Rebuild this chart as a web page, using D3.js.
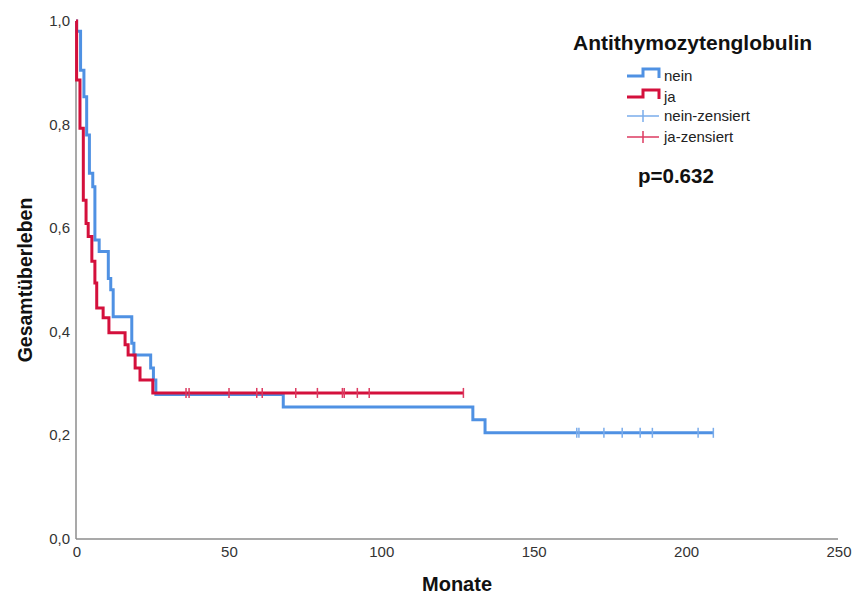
<!DOCTYPE html>
<html>
<head>
<meta charset="utf-8">
<script src="https://cdn.jsdelivr.net/npm/d3@7"></script>
<style>
  body { margin: 0; background: #fff; }
  svg { display: block; font-family: "Liberation Sans", Arial, sans-serif; }
</style>
</head>
<body>
<svg id="chart" width="852" height="597"></svg>
<script>
// ---- data ----
const groupNames = ["nein", "ja"];
const legendLabels = ["nein", "ja", "nein-zensiert", "ja-zensiert"];
const legendTitle = "Antithymozytenglobulin";
const pValueText = "p=0.632";
const xTicks = [0, 50, 100, 150, 200, 250];
const yTicks = [0, 0.2, 0.4, 0.6, 0.8, 1.0];

// event times (months) and survival after each drop
const timesNein = [0.2, 1.5, 2.6, 3.5, 4.4, 5.5, 6.2, 7.6, 10.6, 11.4, 12.2, 18.3, 19.0, 24.5, 25.4, 26.2, 68.0, 130.2, 134.2];
const survNein  = [0.98, 0.905, 0.854, 0.78, 0.706, 0.68, 0.577, 0.555, 0.503, 0.481, 0.429, 0.378, 0.355, 0.33, 0.307, 0.279, 0.255, 0.23, 0.205];
const censorNein = [164.3, 165.0, 173.2, 179.2, 185.1, 189.1, 204.1, 209.1];

const timesJa = [0.2, 1.3, 2.4, 3.3, 4.0, 5.2, 6.2, 6.8, 8.9, 10.8, 16.1, 17.1, 19.4, 21.0, 25.2];
const survJa  = [0.886, 0.793, 0.654, 0.609, 0.584, 0.536, 0.494, 0.446, 0.427, 0.398, 0.375, 0.355, 0.33, 0.307, 0.282];
const censorJa = [36.1, 37.1, 50.2, 59.3, 61.1, 72.1, 79.2, 87.4, 88.0, 92.3, 96.2, 127.1];

(function () {
// ---- layout ----
const svg = d3.select("#chart");
const pL = 76, pR = 838, pT = 21, pB = 539;
const x = d3.scaleLinear().domain([0, 250]).range([pL, pR]);
const y = d3.scaleLinear().domain([0, 1]).range([pB, pT]);

const colors = { nein: "#4f91e3", ja: "#d4103c" };
const censorColors = { nein: "#7aaceb", ja: "#dc3a60" };

// axes
const axisColor = "#8c8c8c";
svg.append("line").attr("x1", pL).attr("x2", pL).attr("y1", pT).attr("y2", pB)
  .attr("stroke", axisColor).attr("stroke-width", 1.5);
svg.append("line").attr("x1", pL).attr("x2", pR).attr("y1", pB).attr("y2", pB)
  .attr("stroke", axisColor).attr("stroke-width", 1.5);

const fmt = v => d3.format(".1f")(v).replace(".", ",");
svg.append("g").selectAll("text").data(yTicks).join("text")
  .attr("x", pL - 6).attr("y", d => y(d) + 5)
  .attr("text-anchor", "end").attr("font-size", 15).attr("fill", "#333")
  .text(fmt);
svg.append("g").selectAll("text").data(xTicks).join("text")
  .attr("x", d => x(d) + 1).attr("y", pB + 18)
  .attr("text-anchor", "middle").attr("font-size", 15).attr("fill", "#333")
  .text(d => d);

svg.append("text").attr("x", (pL + pR) / 2).attr("y", 591)
  .attr("text-anchor", "middle").attr("font-size", 20).attr("font-weight", "bold").attr("fill", "#111")
  .text("Monate");
svg.append("text").attr("transform", `translate(32,${(pT + pB) / 2}) rotate(-90)`)
  .attr("text-anchor", "middle").attr("font-size", 19.5).attr("font-weight", "bold").attr("fill", "#111")
  .text("Gesamtüberleben");

// curves
function stepPoints(times, surv, endTime) {
  const pts = [[0, 1]];
  times.forEach((t, i) => pts.push([t, surv[i]]));
  pts.push([endTime, surv[surv.length - 1]]);
  return pts;
}
function survAt(times, surv, t) {
  let s = 1;
  for (let i = 0; i < times.length; i++) if (times[i] <= t) s = surv[i];
  return s;
}
const line = d3.line().x(d => x(d[0])).y(d => y(d[1])).curve(d3.curveStepAfter);

const groups = [
  { name: "nein", times: timesNein, surv: survNein, censor: censorNein },
  { name: "ja", times: timesJa, surv: survJa, censor: censorJa }
];
groups.forEach(g => {
  const endT = d3.max(g.censor);
  svg.append("path").attr("d", line(stepPoints(g.times, g.surv, endT)))
    .attr("fill", "none").attr("stroke", colors[g.name]).attr("stroke-width", 3)
    .attr("stroke-linejoin", "miter");
  svg.append("g").selectAll("line").data(g.censor).join("line")
    .attr("x1", d => x(d)).attr("x2", d => x(d))
    .attr("y1", d => y(survAt(g.times, g.surv, d)) - 5)
    .attr("y2", d => y(survAt(g.times, g.surv, d)) + 5)
    .attr("stroke", censorColors[g.name]).attr("stroke-width", 1.5);
});

// legend
svg.append("text").attr("x", 573).attr("y", 50).attr("font-size", 21).attr("font-weight", "bold")
  .attr("fill", "#111").text(legendTitle);
const legX = 627, legY = [76, 97, 116, 137];
legendLabels.forEach((lab, i) => {
  const gname = i % 2 === 0 ? "nein" : "ja";
  const yy = legY[i];
  if (i < 2) {
    svg.append("path")
      .attr("d", `M${legX},${yy} H${legX + 16} V${yy - 7} H${legX + 32} V${yy + 2}`)
      .attr("fill", "none").attr("stroke", colors[gname]).attr("stroke-width", 3);
  } else {
    svg.append("line").attr("x1", legX).attr("x2", legX + 32).attr("y1", yy).attr("y2", yy)
      .attr("stroke", censorColors[gname]).attr("stroke-width", 1.5);
    svg.append("line").attr("x1", legX + 16).attr("x2", legX + 16).attr("y1", yy - 6).attr("y2", yy + 6)
      .attr("stroke", censorColors[gname]).attr("stroke-width", 1.5);
  }
  svg.append("text").attr("x", 664).attr("y", yy + 5).attr("font-size", 15).attr("fill", "#222").text(lab);
});
svg.append("text").attr("x", 638).attr("y", 183).attr("font-size", 20.5).attr("font-weight", "bold")
  .attr("fill", "#111").text(pValueText);
})();
</script>
</body>
</html>
